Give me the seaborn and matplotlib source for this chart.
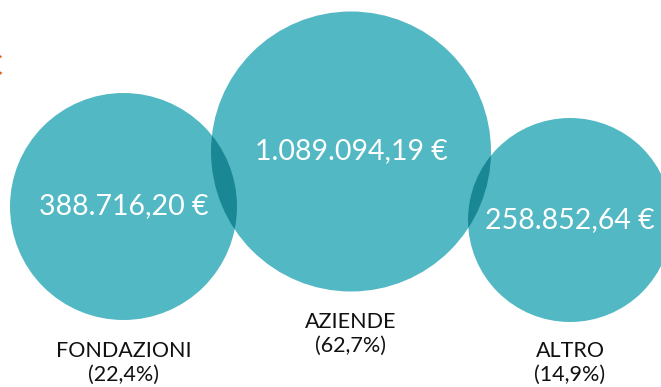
import matplotlib
matplotlib.use("Agg")
import matplotlib.pyplot as plt
from matplotlib.patches import Circle
import seaborn as sns

# Funding sources
categories = ["FONDAZIONI", "AZIENDE", "ALTRO"]
amounts = ["388.716,20 €", "1.089.094,19 €", "258.852,64 €"]
shares = ["(22,4%)", "(62,7%)", "(14,9%)"]

# Bubble layout in pixel coordinates (x, y, radius)
centers_x = [123.5, 351, 570]
centers_y = [206.5, 151.5, 220]
radii = [113.5, 140, 102]
label_y = [363, 334, 363]

sns.set_theme(style="white")
plt.rcParams["font.family"] = ["Lato", "DejaVu Sans"]

fill = "#52b8c4"
overlap = "#1a8894"

W, H = 661, 387
fig = plt.figure(figsize=(W / 100, H / 100), dpi=100)
ax = fig.add_axes([0, 0, 1, 1])
ax.set_xlim(0, W)
ax.set_ylim(H, 0)
ax.set_aspect("equal")
ax.axis("off")

circles = []
for cx, cy, r in zip(centers_x, centers_y, radii):
    c = Circle((cx, cy), r, facecolor=fill, edgecolor="none", zorder=1)
    ax.add_patch(c)
    circles.append(c)

# darker lens where neighbouring bubbles overlap
for a, b in [(0, 1), (1, 2)]:
    lens = Circle((centers_x[b], centers_y[b]), radii[b],
                  facecolor=overlap, edgecolor="none", zorder=2)
    ax.add_patch(lens)
    lens.set_clip_path(circles[a])

for cx, cy, amt in zip(centers_x, centers_y, amounts):
    ax.text(cx, cy, amt, color="white", fontsize=20.5, ha="center",
            va="center", zorder=3)

for cx, ly, cat, sh in zip(centers_x, label_y, categories, shares):
    ax.text(cx, ly, f"{cat}\n{sh}", color="#111111", fontsize=15.5,
            ha="center", va="center", linespacing=1.2, zorder=3)

ax.text(2, 67, "€", color="#e8601c", fontsize=22, ha="right",
        va="center", zorder=3)

fig.savefig("out.png", dpi=100)
